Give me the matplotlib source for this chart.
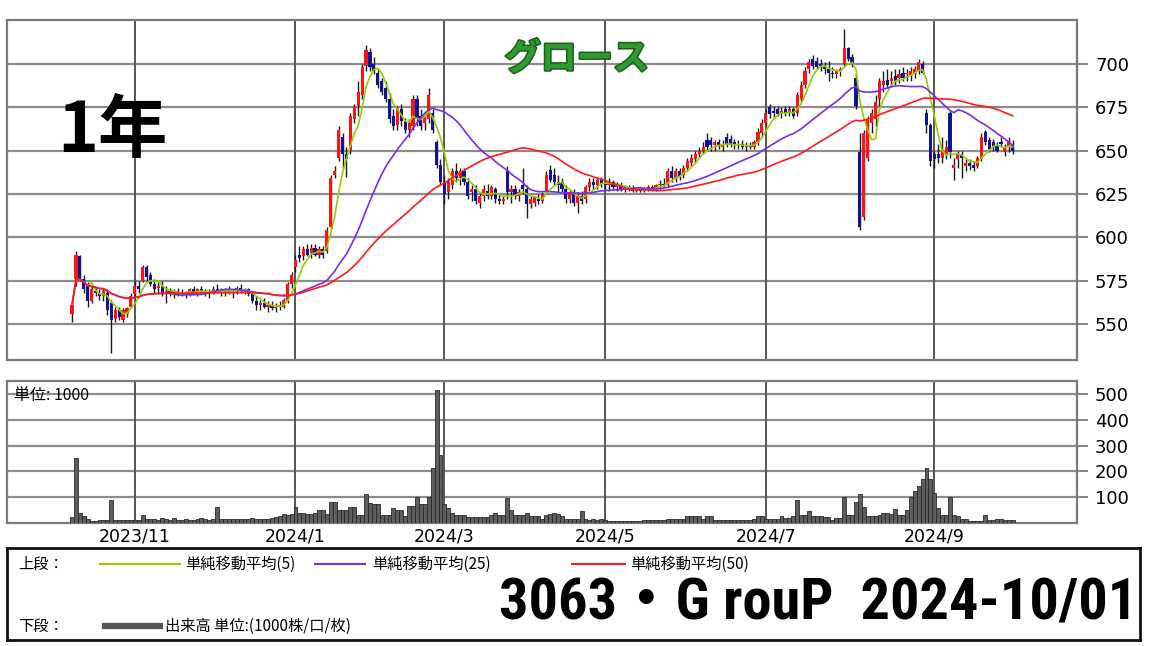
"""Daily candlestick chart (1 year) with simple moving averages and volume."""

import matplotlib
matplotlib.use("Agg")

import numpy as np
import pandas as pd
import matplotlib.pyplot as plt
import matplotlib.patheffects as pe

# one row per trading day: (open, high, low, close, volume [1000 shares])
OCT_2023 = [
    (556, 563, 551, 561, 25), (576, 592, 572, 590, 250), (589, 590, 575, 576, 40),
    (576, 578, 568, 570, 26), (572, 574, 560, 563, 15), (563, 572, 562, 570, 6),
    (569, 571, 566, 568, 6), (568, 570, 564, 566, 10), (566, 570, 563, 569, 10),
    (568, 570, 555, 558, 12), (562, 564, 533, 552, 88), (553, 560, 551, 558, 13),
    (558, 560, 552, 554, 13), (552, 559, 551, 558, 13), (556, 560, 554, 559, 13),
    (560, 568, 559, 566, 13),
]
NOV_2023 = [
    (567, 575, 565, 572, 12), (572, 575, 568, 570, 13), (575, 584, 574, 583, 32),
    (583, 584, 575, 577, 16), (578, 580, 572, 573, 14), (573, 576, 568, 570, 16),
    (571, 574, 567, 572, 13), (572, 575, 566, 568, 20), (568, 572, 562, 569, 14),
    (569, 571, 566, 567, 13), (567, 570, 565, 569, 20), (569, 571, 566, 568, 13),
    (568, 570, 566, 567, 12), (567, 569, 565, 568, 14), (568, 571, 566, 570, 12),
    (570, 572, 567, 568, 13), (568, 571, 566, 570, 14), (570, 572, 567, 569, 20),
    (569, 570, 566, 567, 14), (567, 570, 565, 569, 12),
]
DEC_2023 = [
    (569, 572, 567, 570, 14), (570, 573, 568, 569, 61), (569, 571, 566, 568, 17),
    (568, 571, 566, 570, 16), (570, 572, 567, 568, 16), (568, 570, 565, 569, 16),
    (569, 572, 567, 571, 16), (571, 573, 568, 569, 15), (569, 571, 567, 570, 16),
    (570, 571, 566, 567, 17), (567, 569, 562, 563, 20), (563, 566, 558, 561, 16),
    (561, 564, 558, 562, 15), (562, 565, 559, 560, 14), (560, 563, 557, 561, 16),
    (561, 563, 558, 559, 20), (559, 562, 557, 560, 22), (560, 563, 558, 561, 28),
    (560, 565, 559, 564, 33), (563, 574, 562, 573, 30), (573, 580, 571, 578, 33),
]
JAN_2024 = [
    (583, 590, 580, 587, 61), (590, 595, 586, 588, 40), (589, 595, 587, 593, 38),
    (593, 596, 589, 590, 35), (591, 596, 588, 594, 35), (594, 596, 589, 590, 38),
    (590, 595, 588, 593, 52), (593, 595, 588, 590, 52), (592, 606, 591, 604, 34),
    (606, 636, 605, 634, 81), (636, 641, 634, 638, 81), (646, 664, 644, 662, 52),
    (658, 660, 640, 648, 52), (648, 652, 635, 645, 52), (650, 672, 648, 670, 61),
    (668, 677, 666, 675, 61), (676, 690, 670, 684, 31), (682, 700, 680, 698, 31),
    (699, 711, 696, 708, 114),
]
FEB_2024 = [
    (707, 709, 696, 698, 78), (700, 704, 694, 696, 74), (695, 697, 686, 688, 74),
    (690, 692, 682, 684, 31), (686, 690, 678, 680, 31), (680, 683, 666, 668, 31),
    (670, 674, 662, 664, 60), (665, 676, 662, 674, 52), (674, 677, 664, 667, 52),
    (667, 669, 660, 662, 28), (662, 668, 658, 666, 65), (664, 682, 662, 680, 65),
    (680, 682, 664, 668, 100), (670, 674, 662, 664, 74), (666, 672, 662, 670, 74),
    (668, 686, 666, 682, 100), (672, 674, 660, 662, 214), (655, 656, 640, 642, 515),
    (642, 645, 630, 632, 264),
]
MAR_2024 = [
    (632, 636, 619, 625, 74), (626, 634, 622, 632, 60), (630, 640, 628, 638, 39),
    (638, 643, 632, 634, 30), (634, 640, 630, 638, 30), (638, 640, 630, 632, 30),
    (632, 634, 622, 624, 22), (626, 630, 621, 628, 22), (628, 630, 619, 621, 22),
    (620, 626, 617, 624, 22), (624, 630, 621, 628, 22), (627, 631, 622, 624, 22),
    (624, 630, 622, 629, 30), (628, 629, 620, 622, 39), (622, 625, 619, 621, 30),
    (621, 624, 619, 622, 30), (638, 641, 622, 626, 97), (626, 630, 620, 628, 52),
    (628, 630, 622, 624, 30), (624, 628, 621, 626, 30),
]
APR_2024 = [
    (630, 640, 625, 628, 30), (628, 630, 611, 619, 39), (619, 624, 617, 622, 26),
    (620, 624, 618, 623, 26), (622, 625, 619, 621, 26), (621, 626, 620, 625, 17),
    (626, 638, 625, 636, 30), (639, 642, 632, 633, 36), (636, 640, 630, 632, 39),
    (632, 636, 626, 630, 36), (632, 634, 626, 628, 26), (628, 630, 620, 622, 17),
    (622, 628, 620, 626, 17), (626, 628, 618, 620, 17), (620, 626, 614, 624, 17),
    (624, 627, 619, 621, 45), (622, 630, 620, 629, 17), (629, 634, 627, 632, 13),
    (632, 634, 628, 630, 17), (630, 634, 628, 633, 13), (633, 635, 629, 631, 17),
]
MAY_2024 = [
    (631, 633, 628, 630, 13), (630, 634, 627, 632, 6), (632, 633, 628, 629, 6),
    (629, 632, 627, 630, 6), (630, 632, 627, 628, 6), (628, 630, 626, 629, 6),
    (629, 630, 627, 628, 6), (628, 630, 626, 627, 6), (627, 629, 626, 628, 6),
    (628, 629, 626, 627, 6), (627, 629, 626, 628, 13), (628, 630, 627, 629, 13),
    (629, 630, 627, 628, 13), (628, 631, 627, 630, 13), (630, 633, 628, 631, 13),
    (631, 634, 629, 630, 13), (630, 640, 629, 638, 17), (638, 641, 632, 634, 17),
    (634, 640, 632, 638, 17), (638, 640, 633, 635, 17), (636, 642, 634, 640, 17),
]
JUN_2024 = [
    (640, 646, 638, 644, 26), (643, 648, 641, 646, 26), (645, 650, 643, 648, 26),
    (648, 652, 646, 650, 26), (650, 655, 648, 652, 17), (656, 660, 650, 652, 26),
    (656, 658, 650, 653, 26), (653, 656, 650, 655, 10), (655, 657, 651, 653, 10),
    (652, 656, 650, 654, 10), (658, 660, 652, 654, 10), (657, 659, 652, 653, 10),
    (655, 657, 651, 653, 10), (653, 656, 651, 654, 10), (654, 656, 651, 652, 10),
    (652, 655, 650, 653, 10), (653, 655, 651, 652, 10), (652, 656, 651, 655, 17),
    (655, 663, 653, 661, 26), (660, 668, 658, 666, 26),
]
JUL_2024 = [
    (666, 674, 664, 672, 17), (675, 677, 669, 671, 17), (673, 676, 669, 672, 17),
    (674, 676, 670, 671, 17), (672, 675, 669, 673, 26), (674, 676, 670, 671, 20),
    (672, 676, 670, 674, 20), (674, 675, 669, 670, 26), (672, 684, 670, 682, 88),
    (680, 690, 678, 688, 30), (688, 698, 686, 696, 30), (697, 703, 695, 701, 45),
    (703, 705, 697, 699, 26), (702, 704, 697, 698, 26), (700, 703, 696, 699, 26),
    (699, 701, 694, 697, 23), (697, 702, 690, 695, 23), (695, 698, 692, 694, 13),
    (694, 697, 692, 696, 20), (696, 698, 693, 697, 20), (700, 720, 698, 709, 100),
    (709, 710, 702, 703, 30),
]
AUG_2024 = [
    (704, 706, 698, 700, 30), (692, 694, 674, 676, 80), (649, 660, 604, 606, 114),
    (612, 662, 610, 660, 61), (646, 670, 644, 668, 26), (666, 674, 660, 672, 26),
    (668, 682, 664, 678, 26), (680, 692, 676, 690, 30), (688, 696, 684, 690, 39),
    (691, 697, 686, 688, 39), (690, 696, 687, 692, 36), (693, 697, 688, 690, 55),
    (692, 697, 689, 694, 30), (695, 698, 690, 692, 30), (694, 697, 690, 695, 52),
    (693, 698, 690, 696, 100), (695, 699, 692, 697, 123), (696, 703, 694, 701, 143),
    (700, 702, 694, 695, 169), (672, 674, 660, 665, 214), (665, 666, 641, 644, 169),
]
SEP_2024 = [
    (648, 650, 640, 645, 118), (648, 654, 643, 646, 60), (646, 658, 643, 650, 30),
    (648, 656, 645, 652, 30), (672, 673, 646, 649, 100), (640, 646, 633, 642, 30),
    (645, 650, 640, 648, 26), (648, 650, 634, 646, 17), (641, 645, 638, 643, 17),
    (643, 645, 639, 641, 6), (642, 644, 638, 640, 6), (641, 647, 640, 646, 6),
    (645, 660, 644, 658, 6), (661, 662, 653, 655, 30), (656, 658, 649, 651, 13),
    (655, 657, 650, 652, 13), (653, 655, 649, 650, 17), (655, 658, 652, 654, 17),
    (649, 654, 647, 652, 10), (652, 658, 649, 655, 10),
]
OCT_2024 = [
    (654, 656, 648, 650, 10),
]

# first trading day of each labelled month (index into the daily rows)
MONTH_TICKS = [16, 57, 95, 136, 177, 220]
MONTH_LABELS = ["2023/11", "2024/1", "2024/3", "2024/5", "2024/7", "2024/9"]
PRICE_TICKS = [550, 575, 600, 625, 650, 675, 700]
VOLUME_TICKS = [100, 200, 300, 400, 500]
MA_WINDOWS = [5, 25, 50]
MA_COLORS = {5: "#98cc00", 25: "#7a2cf0", 50: "#ff1a1a"}

W, H = 1150, 646
JP = ["Noto Sans CJK JP", "DejaVu Sans"]
BIG = ["Roboto Condensed", "Liberation Sans", "Noto Sans CJK JP", "DejaVu Sans"]
GRID_H = "#8c8c8c"
GRID_V = "#555555"
FRAME = "#7a7a7a"


def _box(x0, y0, x1, y1):
    """Axes rectangle from pixel corners (origin top-left)."""
    return [x0 / W, 1 - y1 / H, (x1 - x0) / W, (y1 - y0) / H]


def _frame(ax):
    for s in ax.spines.values():
        s.set_color(FRAME)
        s.set_linewidth(1.6)


def _load() -> pd.DataFrame:
    rows = (OCT_2023 + NOV_2023 + DEC_2023 + JAN_2024 + FEB_2024 + MAR_2024
            + APR_2024 + MAY_2024 + JUN_2024 + JUL_2024 + AUG_2024 + SEP_2024
            + OCT_2024)
    return pd.DataFrame(rows, columns=["open", "high", "low", "close", "volume"])


def _price_panel(fig, df):
    ax = fig.add_axes(_box(7, 20, 1077, 360))
    x = np.arange(len(df))
    o, c = df["open"].to_numpy(), df["close"].to_numpy()
    up = c >= o
    lo = np.minimum(o, c)
    hgt = np.maximum(np.abs(c - o), 0.8)

    ax.vlines(x, df["low"], df["high"], color="#1a1a1a", lw=1.0, zorder=3)
    ax.bar(x[up], hgt[up], bottom=lo[up], width=0.8, color="#ff1212", zorder=4)
    ax.bar(x[~up], hgt[~up], bottom=lo[~up], width=0.8, color="#10129a", zorder=4)

    for n in MA_WINDOWS:
        ma = df["close"].rolling(n, min_periods=1).mean()
        ax.plot(x, ma, color=MA_COLORS[n], lw=1.2, zorder=5)

    ax.set_xlim(-16.6, 256.4)
    ax.set_ylim(529.2, 725.4)
    ax.set_yticks(PRICE_TICKS)
    ax.yaxis.tick_right()
    ax.tick_params(axis="y", direction="out", length=8, width=1.3, color=FRAME,
                   labelsize=13, pad=5)
    ax.set_xticks(MONTH_TICKS)
    ax.tick_params(axis="x", length=0, labelbottom=False)
    for p in PRICE_TICKS:
        ax.axhline(p, color=GRID_H, lw=1.6, zorder=1)
    for m in MONTH_TICKS:
        ax.axvline(m, color=GRID_V, lw=1.4, zorder=1)
    _frame(ax)

    ax.text(0.047, 0.67, "1年", transform=ax.transAxes, fontsize=50,
            fontweight="bold", family=JP, va="center", ha="left")
    ax.text(0.465, 0.885, "グロース", transform=ax.transAxes, fontsize=26,
            fontweight="bold", family=JP, color="#2f9a2f", va="center", ha="left",
            path_effects=[pe.withStroke(linewidth=2.2, foreground="#1e5e1e")])


def _volume_panel(fig, df):
    ax = fig.add_axes(_box(7, 381, 1077, 523))
    x = np.arange(len(df))
    ax.bar(x, df["volume"], width=1.0, color="#5e5e5e", edgecolor="#2a2a2a",
           linewidth=0.6, zorder=3)
    ax.set_xlim(-16.6, 256.4)
    ax.set_ylim(0, 550)
    ax.set_yticks(VOLUME_TICKS)
    ax.yaxis.tick_right()
    ax.tick_params(axis="y", direction="out", length=8, width=1.3, color=FRAME,
                   labelsize=13, pad=5)
    ax.set_xticks(MONTH_TICKS)
    ax.set_xticklabels(MONTH_LABELS)
    ax.tick_params(axis="x", length=0, labelsize=12.5, pad=3)
    for v in VOLUME_TICKS:
        ax.axhline(v, color=GRID_H, lw=1.6, zorder=1)
    for m in MONTH_TICKS:
        ax.axvline(m, color=GRID_V, lw=1.4, zorder=1)
    _frame(ax)
    ax.text(0.007, 0.90, "単位: 1000", transform=ax.transAxes, fontsize=11.5,
            family=JP, va="center", ha="left", zorder=4)


def _legend_panel(fig):
    ax = fig.add_axes(_box(7, 548, 1140, 640))
    ax.set_xlim(0, 1133)
    ax.set_ylim(92, 0)
    ax.set_xticks([])
    ax.set_yticks([])
    for s in ax.spines.values():
        s.set_color("#111111")
        s.set_linewidth(2)

    ax.text(11, 16, "上段：", fontsize=11, family=JP, va="center")
    items = [(93, 173, 178, 5, "単純移動平均(5)"),
             (308, 358, 365, 25, "単純移動平均(25)"),
             (565, 618, 623, 50, "単純移動平均(50)")]
    for x0, x1, tx, n, label in items:
        ax.plot([x0, x1], [16, 16], color=MA_COLORS[n], lw=1.5)
        ax.text(tx, 16, label, fontsize=11, family=JP, va="center")

    ax.text(11, 78, "下段：", fontsize=11, family=JP, va="center")
    ax.plot([98, 153], [78, 78], color="#555555", lw=4.5)
    ax.text(158, 78, "出来高 単位:(1000株/口/枚)", fontsize=11, family=JP,
            va="center")
    ax.text(1130, 56, "3063・G rouP  2024-10/01", fontsize=42, fontweight="bold",
            family=BIG, va="center", ha="right")


def main() -> None:
    df = _load()
    fig = plt.figure(figsize=(W / 100, H / 100), dpi=100)
    fig.patch.set_facecolor("white")
    _price_panel(fig, df)
    _volume_panel(fig, df)
    _legend_panel(fig)
    fig.savefig("out.png", dpi=100)


if __name__ == "__main__":
    main()
